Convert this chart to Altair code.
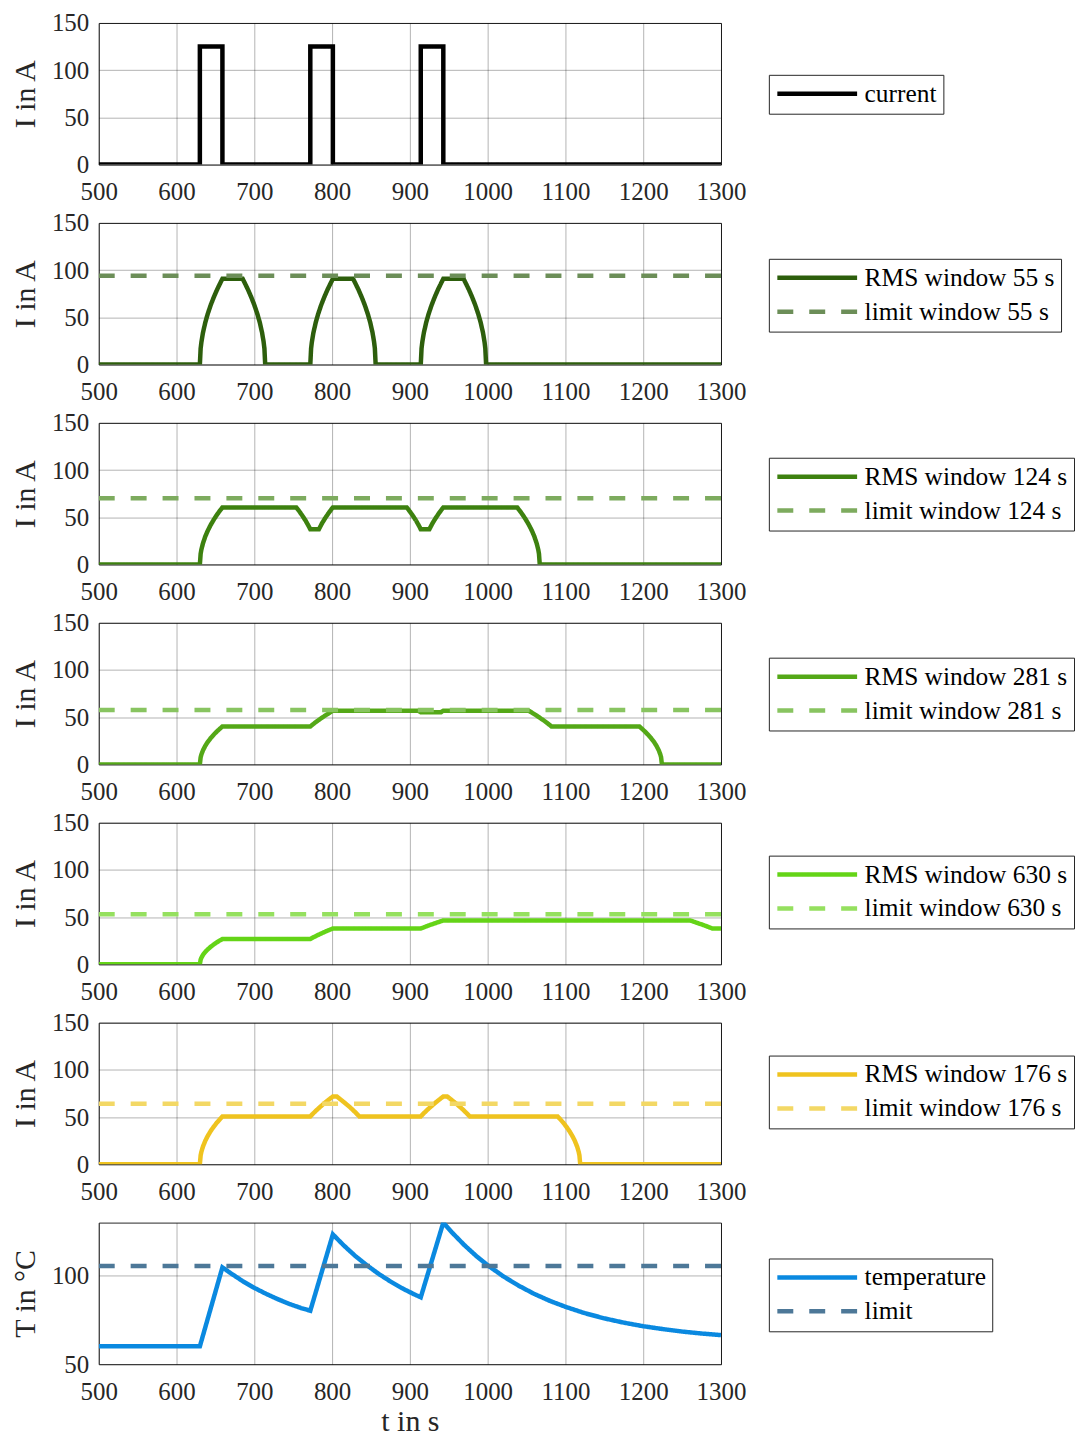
import altair as alt
import pandas as pd

FONT = "Liberation Serif"
X_TICKS = [500, 600, 700, 800, 900, 1000, 1100, 1200, 1300]

# ---- panel 1: current ----
cur_t = [500, 630, 630, 659, 659, 772, 772, 801, 801, 914, 914, 943, 943, 1300]
cur_v = [0, 0, 125, 125, 0, 0, 125, 125, 0, 0, 125, 125, 0, 0]

# ---- panel 2: RMS window 55 s ----
rms55_t = [500, 630, 631, 632, 634, 637, 640, 644, 648, 652, 656, 659,
           685, 688, 692, 696, 700, 704, 707, 710, 712, 713, 714,
           772, 773, 774, 776, 779, 782, 786, 790, 794, 798, 801,
           827, 830, 834, 838, 842, 846, 849, 852, 854, 855, 856,
           914, 915, 916, 918, 921, 924, 928, 932, 936, 940, 943,
           969, 972, 976, 980, 984, 988, 991, 994, 996, 997, 998, 1300]
rms55_v = [0, 0, 16.9, 23.8, 33.7, 44.6, 53.3, 63.1, 71.5, 79.1, 85.9, 90.8,
           90.8, 85.9, 79.1, 71.5, 63.1, 53.3, 44.6, 33.7, 23.8, 16.9, 0,
           0, 16.9, 23.8, 33.7, 44.6, 53.3, 63.1, 71.5, 79.1, 85.9, 90.8,
           90.8, 85.9, 79.1, 71.5, 63.1, 53.3, 44.6, 33.7, 23.8, 16.9, 0,
           0, 16.9, 23.8, 33.7, 44.6, 53.3, 63.1, 71.5, 79.1, 85.9, 90.8,
           90.8, 85.9, 79.1, 71.5, 63.1, 53.3, 44.6, 33.7, 23.8, 16.9, 0, 0]

# ---- panel 3: RMS window 124 s ----
rms124_t = [500, 630, 631, 632, 634, 637, 640, 644, 648, 652, 656, 659,
            754, 758, 762, 766, 770, 772, 783, 787, 791, 795, 799, 801,
            896, 900, 904, 908, 912, 914, 925, 929, 933, 937, 941, 943,
            1038, 1041, 1045, 1049, 1053, 1057, 1060, 1063, 1065, 1066, 1067, 1300]
rms124_v = [0, 0, 11.2, 15.9, 22.4, 29.7, 35.5, 42.0, 47.6, 52.7, 57.2, 60.4,
            60.4, 56.1, 51.4, 46.3, 40.5, 37.2, 37.2, 43.5, 48.9, 53.8, 58.3, 60.4,
            60.4, 56.1, 51.4, 46.3, 40.5, 37.2, 37.2, 43.5, 48.9, 53.8, 58.3, 60.4,
            60.4, 57.2, 52.7, 47.6, 42.0, 35.5, 29.7, 22.4, 15.9, 11.2, 0, 0]

# ---- panel 4: RMS window 281 s ----
rms281_t = [500, 630, 631, 632, 634, 637, 640, 644, 648, 652, 656, 659,
            772, 776, 780, 784, 788, 792, 796, 801, 911, 914, 940, 943,
            1053, 1057, 1061, 1065, 1069, 1073, 1077, 1082,
            1195, 1198, 1202, 1206, 1210, 1214, 1217, 1220, 1222, 1223, 1224, 1300]
rms281_v = [0, 0, 7.5, 10.5, 14.9, 19.7, 23.6, 27.9, 31.6, 35.0, 38.0, 40.2,
            40.2, 42.8, 45.4, 47.7, 50.0, 52.2, 54.3, 56.8, 56.8, 55.3, 55.3, 56.8,
            56.8, 54.8, 52.7, 50.6, 48.3, 46.0, 43.5, 40.2,
            40.2, 38.0, 35.0, 31.6, 27.9, 23.6, 19.7, 14.9, 10.5, 7.5, 0, 0]

# ---- panel 5: RMS window 630 s ----
rms630_t = [500, 630, 631, 632, 634, 637, 640, 644, 648, 652, 656, 659,
            772, 776, 780, 784, 788, 792, 796, 801,
            914, 918, 922, 926, 930, 934, 938, 943,
            1260, 1264, 1268, 1272, 1276, 1280, 1284, 1289, 1300]
rms630_v = [0, 0, 5.0, 7.0, 10.0, 13.2, 15.7, 18.6, 21.1, 23.4, 25.4, 26.8,
            26.8, 28.6, 30.3, 31.9, 33.4, 34.9, 36.3, 37.9,
            37.9, 39.2, 40.5, 41.7, 42.8, 44.0, 45.1, 46.5,
            46.5, 45.4, 44.3, 43.1, 42.0, 40.8, 39.5, 37.9, 37.9]

# ---- panel 6: RMS window 176 s ----
rms176_t = [500, 630, 631, 632, 634, 637, 640, 644, 648, 652, 656, 659,
            772, 776, 780, 784, 788, 792, 796, 801, 806, 810, 814, 818, 822, 826, 830, 835,
            914, 918, 922, 926, 930, 934, 938, 943, 948, 952, 956, 960, 964, 968, 972, 977,
            1090, 1093, 1097, 1101, 1105, 1109, 1112, 1115, 1117, 1118, 1119, 1300]
rms176_v = [0, 0, 9.4, 13.3, 18.8, 24.9, 29.8, 35.3, 40.0, 44.2, 48.0, 50.7,
            50.7, 54.1, 57.3, 60.3, 63.2, 66.0, 68.6, 71.8, 71.8, 69.2, 66.6, 63.9, 61.1, 58.1, 54.9, 50.7,
            50.7, 54.1, 57.3, 60.3, 63.2, 66.0, 68.6, 71.8, 71.8, 69.2, 66.6, 63.9, 61.1, 58.1, 54.9, 50.7,
            50.7, 48.0, 44.2, 40.0, 35.3, 29.8, 24.9, 18.8, 13.3, 9.4, 0, 0]

# ---- panel 7: temperature ----
temp_t = [500, 630, 659, 670, 685, 700, 715, 730, 745, 760, 772,
          801, 815, 830, 845, 860, 875, 890, 905, 914,
          943, 955, 970, 985, 1000, 1020, 1040, 1060, 1080, 1100, 1125, 1150,
          1175, 1200, 1225, 1250, 1275, 1300]
temp_v = [60, 60, 104.3, 100.9, 96.6, 92.8, 89.5, 86.5, 83.8, 81.5, 80.0,
          122.8, 116.6, 110.6, 105.4, 100.6, 96.4, 92.6, 89.3, 87.5,
          129.4, 123.5, 116.8, 110.8, 105.5, 99.3, 94.0, 89.4, 85.5, 82.2, 78.6, 75.7,
          73.3, 71.3, 69.7, 68.3, 67.2, 66.3]
TEMP_DOMAIN = [50, 129.4]

# limits (horizontal)
LIMIT_T = [500, 1300]
limit55, limit124, limit281, limit630, limit176, limit_temp = 94, 70, 57.5, 53, 64, 105

SOLID = [1, 0]
DASH = [16, 16]


def panel(series, legend_y, y_domain, y_ticks, y_title, x_title=None):
    rows = []
    for label, ts, vs, _c, _d in series:
        for i, (t, v) in enumerate(zip(ts, vs)):
            rows.append({"t": t, "v": v, "s": label, "i": i})
    df = pd.DataFrame(rows)
    labels = [s[0] for s in series]
    colors = [s[3] for s in series]
    dashes = [s[4] for s in series]
    leg = alt.Legend(
        title=None, orient="none", legendX=672, legendY=legend_y,
        symbolType="stroke", symbolSize=6400, symbolStrokeWidth=4.5,
        clipHeight=26, rowPadding=7, padding=6, labelOffset=5,
        labelFont=FONT, labelFontSize=25.5, labelColor="#000000", labelLimit=400,
        strokeColor="#262626", fillColor="white",
    )
    if x_title:
        xaxis = alt.Axis(values=X_TICKS, format="d", title=x_title)
    else:
        xaxis = alt.Axis(values=X_TICKS, format="d", title=None)
    yaxis = alt.Axis(values=y_ticks, format="d", title=y_title)
    return alt.Chart(df).mark_line(strokeWidth=4.5, clip=True).encode(
        x=alt.X("t:Q", scale=alt.Scale(domain=[500, 1300], nice=False, zero=False), axis=xaxis),
        y=alt.Y("v:Q", scale=alt.Scale(domain=y_domain, nice=False, zero=False), axis=yaxis),
        color=alt.Color("s:N", scale=alt.Scale(domain=labels, range=colors), legend=leg),
        strokeDash=alt.StrokeDash("s:N", scale=alt.Scale(domain=labels, range=dashes), legend=leg),
        order=alt.Order("i:Q"),
    ).properties(width=624, height=142)


I_TICKS = [0, 50, 100, 150]
p1 = panel([("current", cur_t, cur_v, "#000000", SOLID)], 52, [0, 150], I_TICKS, "I in A")
p2 = panel([("RMS window 55 s", rms55_t, rms55_v, "#2d5e0c", SOLID),
            ("limit window 55 s", LIMIT_T, [limit55, limit55], "#6c8e58", DASH)], 36, [0, 150], I_TICKS, "I in A")
p3 = panel([("RMS window 124 s", rms124_t, rms124_v, "#3d810f", SOLID),
            ("limit window 124 s", LIMIT_T, [limit124, limit124], "#7dab5e", DASH)], 35, [0, 150], I_TICKS, "I in A")
p4 = panel([("RMS window 281 s", rms281_t, rms281_v, "#54a817", SOLID),
            ("limit window 281 s", LIMIT_T, [limit281, limit281], "#88c460", DASH)], 35, [0, 150], I_TICKS, "I in A")
p5 = panel([("RMS window 630 s", rms630_t, rms630_v, "#64d417", SOLID),
            ("limit window 630 s", LIMIT_T, [limit630, limit630], "#95e05f", DASH)], 33, [0, 150], I_TICKS, "I in A")
p6 = panel([("RMS window 176 s", rms176_t, rms176_v, "#efc31f", SOLID),
            ("limit window 176 s", LIMIT_T, [limit176, limit176], "#f3d865", DASH)], 33, [0, 150], I_TICKS, "I in A")
p7 = panel([("temperature", temp_t, temp_v, "#0a89e0", SOLID),
            ("limit", LIMIT_T, [limit_temp, limit_temp], "#4d7898", DASH)], 36, TEMP_DOMAIN,
           [50, 100], "T in °C", x_title="t in s")

chart = alt.vconcat(p1, p2, p3, p4, p5, p6, p7, spacing=58.5, bounds="flush").resolve_scale(
    color="independent", strokeDash="independent", y="independent"
).resolve_legend(color="independent", strokeDash="independent").configure(
    padding={"left": 2, "top": 0, "right": 0, "bottom": 0}
).configure_view(
    stroke="#262626", strokeWidth=1
).configure_axis(
    labelFont=FONT, labelFontSize=25, labelColor="#262626",
    titleFont=FONT, titleFontSize=30, titleFontWeight="normal", titleColor="#262626",
    grid=True, gridColor="#000000", gridOpacity=0.3, gridWidth=1,
    domain=False, ticks=False, labelFlush=False,
).configure_axisY(titlePadding=11, labelPadding=10).configure_axisX(titlePadding=2, labelPadding=15)

chart.save("out.html", embed_options={"renderer": "svg", "actions": False})
